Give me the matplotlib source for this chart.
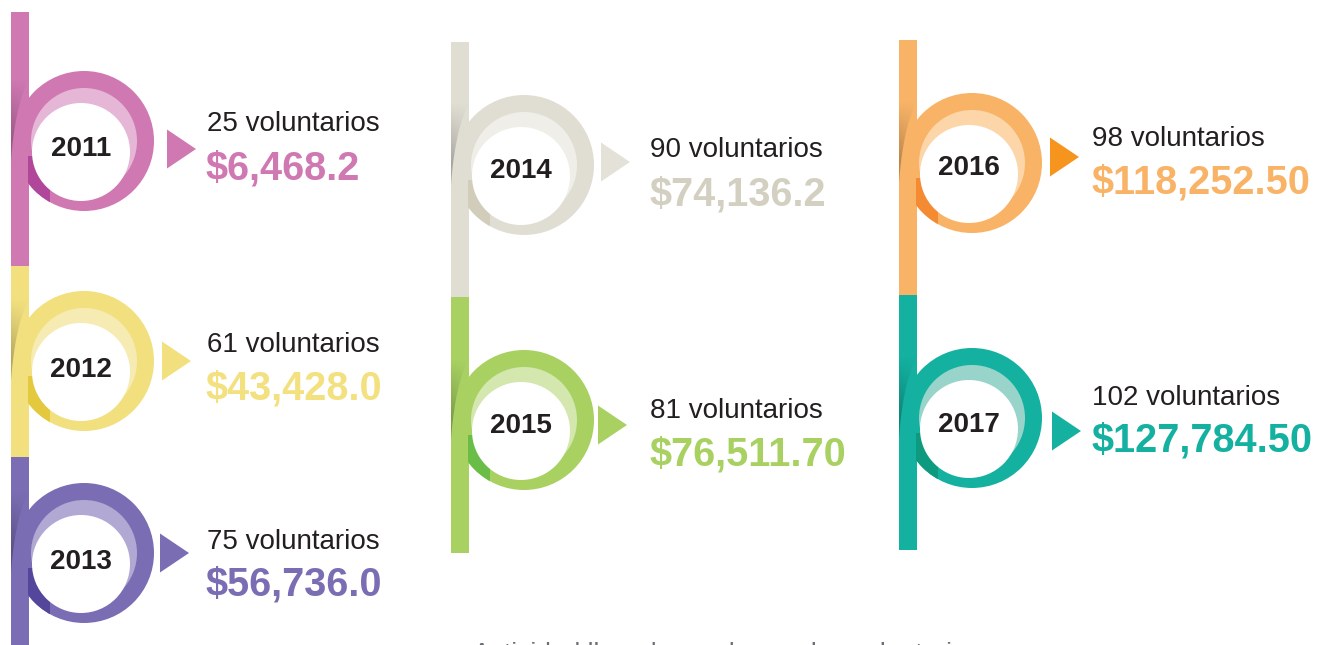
import numpy as np
import matplotlib
matplotlib.use("Agg")
import matplotlib.pyplot as plt
from matplotlib.patches import Circle, Rectangle, Polygon
from matplotlib.colors import to_rgb

# ---------------- data ----------------
years = ["2011", "2012", "2013", "2014", "2015", "2016", "2017"]
volunteers = [25, 61, 75, 90, 81, 98, 102]
amounts = [6468.2, 43428.0, 56736.0, 74136.2, 76511.70, 118252.50, 127784.50]
amount_decimals = [1, 1, 1, 1, 2, 2, 2]
footer_text = "Actividad llevada a cabo por los voluntarios"

# ---------------- styles ----------------
ring_colors = ["#CF78B2", "#F2E07F", "#7B6DB3", "#E0DED3", "#A8D162", "#F9B367", "#14B1A0"]
light_colors = ["#E5B6D6", "#F6ECB3", "#B1A8D4", "#EFEEE8", "#D3E7AF", "#FCD6A9", "#99D4CB"]
dark_colors = ["#B0479B", "#E4C93E", "#54479B", "#D2CDBA", "#6ABE48", "#F48B32", "#0D9A7F"]
arrow_colors = ["#CF78B2", "#F2E07F", "#7B6DB3", "#E3E1D8", "#A8D162", "#F7941D", "#14B1A0"]
money_colors = ["#CF78B2", "#F3E07E", "#7B6DB3", "#D4D0C1", "#A8D162", "#F9B367", "#14B1A0"]
TEXT_DARK = "#231F20"

# ---------------- layout (pixels) ----------------
bar_left = [11, 11, 11, 451, 451, 899, 899]
bar_w = 18
bar_top = [12, 266, 457, 42, 297, 40, 295]
bar_bot = [266, 457, 650, 297, 553, 295, 550]
ring_cy = [141, 361, 553, 165, 420, 163, 418]
ring_dx = 55          # ring centre x relative to bar right edge
R_OUT, R_LIGHT, R_WHITE = 70, 53, 49
year_cy = [146, 367, 559, 168, 423, 165, 422]
tri_x = [167, 162, 160, 601, 598, 1050, 1052]
tri_cy = [149, 361, 553, 162, 425, 157, 431]
text_x = [207, 207, 207, 650, 650, 1092, 1092]
line1_cy = [121, 342, 539, 147, 408, 136, 395]
line2_cy = [166, 386, 582, 192, 452, 180, 438]

W, H = 1319, 645
fig = plt.figure(figsize=(W / 100, H / 100), dpi=100)
ax = fig.add_axes([0, 0, 1, 1])
ax.set_xlim(0, W)
ax.set_ylim(H, 0)
ax.axis("off")

FONT = "Liberation Sans"

# bars
for i in range(len(years)):
    ax.add_patch(Rectangle((bar_left[i], bar_top[i]), bar_w, bar_bot[i] - bar_top[i],
                           facecolor=ring_colors[i], edgecolor="none", zorder=1))

for i in range(len(years)):
    bl = bar_left[i]
    br = bl + bar_w
    cx = br + ring_dx
    cy = ring_cy[i]
    col = ring_colors[i]

    # outer ring disc
    ax.add_patch(Circle((cx, cy), R_OUT, facecolor=col, edgecolor="none", zorder=2))

    # shadow where loop meets the stem
    t = np.linspace(0, 1, 40)
    p0 = np.array([br, cy - 62]); p1 = np.array([bl + 4, cy - 35]); p2 = np.array([bl, cy + 20])
    curve = ((1 - t)[:, None] ** 2) * p0 + (2 * (1 - t) * t)[:, None] * p1 + (t[:, None] ** 2) * p2
    poly_pts = np.vstack([curve, [[bl, cy - 62]]])
    clip = Polygon(poly_pts, closed=True, facecolor="none", edgecolor="none", zorder=3)
    ax.add_patch(clip)
    ny, nx = 60, 10
    ys = np.linspace(cy - 62, cy + 20, ny)
    xs = np.linspace(bl, br, nx)
    yy, xx = np.meshgrid(ys, xs, indexing="ij")
    a_y = np.clip((yy - (cy - 62)) / 60.0, 0, 1)
    a_x = 1.0 - 0.5 * (xx - bl) / bar_w
    alpha = 0.55 * a_y * a_x
    shade = np.array(to_rgb(col)) * 0.55
    img = np.zeros((ny, nx, 4))
    img[..., :3] = shade
    img[..., 3] = alpha
    im = ax.imshow(img, extent=(bl, br, cy + 20, cy - 62), origin="upper",
                   interpolation="bilinear", zorder=3, aspect="auto")
    im.set_clip_path(clip)

    # light inner disc
    ax.add_patch(Circle((cx, cy), R_LIGHT, facecolor=light_colors[i], edgecolor="none", zorder=4))

    # dark patch lower-left
    outer = Circle((cx, cy), R_OUT, facecolor="none", edgecolor="none", zorder=4)
    ax.add_patch(outer)
    patch = Rectangle((br - 1, cy + 15), 22, 60, facecolor=dark_colors[i], edgecolor="none", zorder=5)
    ax.add_patch(patch)
    patch.set_clip_path(outer)

    # white centre
    ax.add_patch(Circle((cx - 3, cy + 11), R_WHITE, facecolor="white", edgecolor="none", zorder=6))

    # year label
    ax.text(br + 52, year_cy[i] + 10, years[i], fontsize=20, fontweight="bold",
            family=FONT, color=TEXT_DARK, ha="center", va="baseline", zorder=7)

    # arrow
    tx = tri_x[i]; ty = tri_cy[i]
    ax.add_patch(Polygon([(tx, ty - 19.5), (tx, ty + 19.5), (tx + 29, ty)], closed=True,
                         facecolor=arrow_colors[i], edgecolor="none", zorder=7))

    # texts
    ax.text(text_x[i], line1_cy[i] + 10, f"{volunteers[i]} voluntarios", fontsize=20,
            family=FONT, color=TEXT_DARK, ha="left", va="baseline", zorder=7)
    amt = f"${amounts[i]:,.{amount_decimals[i]}f}"
    ax.text(text_x[i] - 1, line2_cy[i] + 14, amt, fontsize=28.5, fontweight="bold",
            family=FONT, color=money_colors[i], ha="left", va="baseline", zorder=7)

# footer (cut by the bottom edge, as in the reference)
ax.text(473, 661, footer_text, fontsize=19, family=FONT, color="#6D6E71",
        ha="left", va="baseline", zorder=7, clip_on=False)

fig.savefig("out.png", dpi=100, facecolor="white")
